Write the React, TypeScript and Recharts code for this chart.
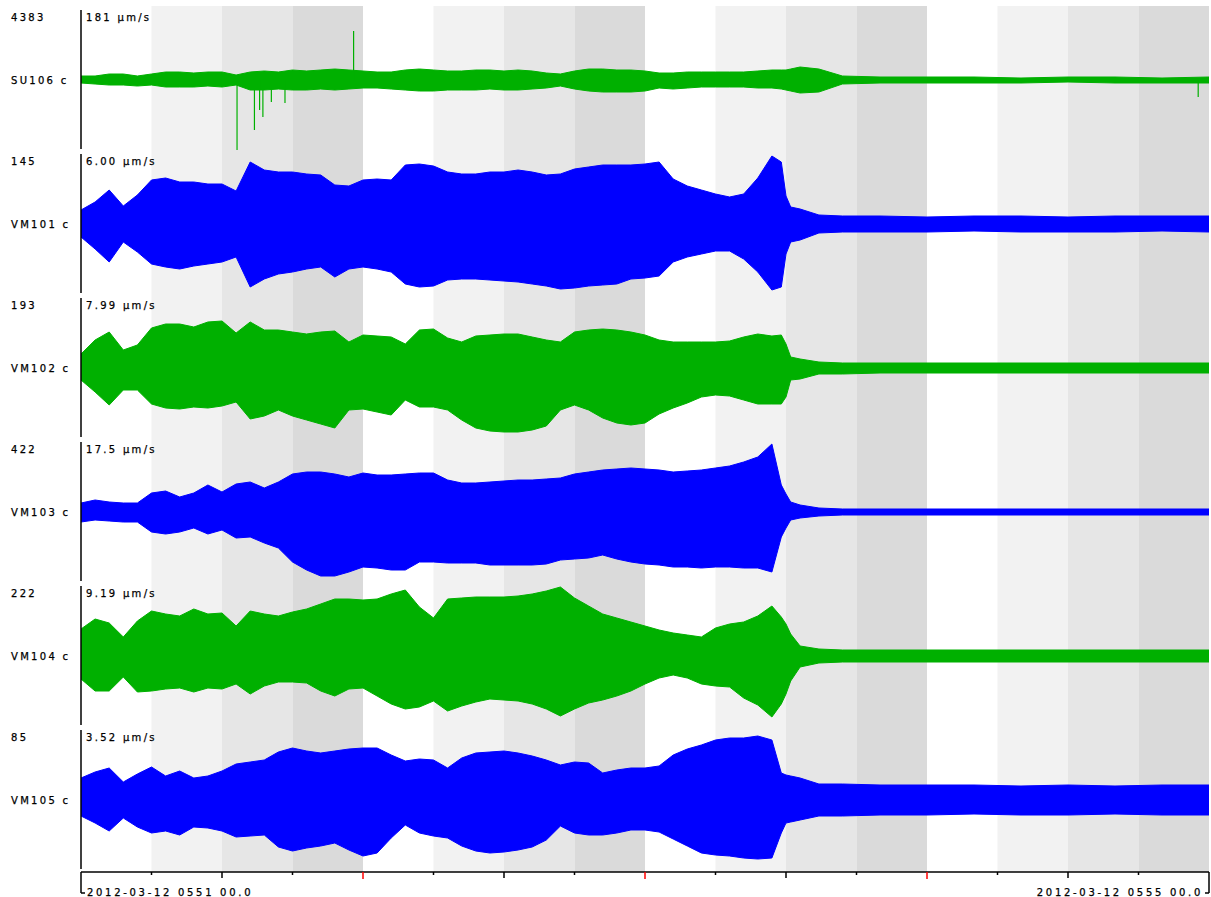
import React from 'react';
import { ComposedChart, Area, XAxis, YAxis, ReferenceArea, ReferenceLine } from 'recharts';

// time in seconds from the left edge of the record
const TIME = [
  0, 3, 6, 9, 12, 15, 18, 21, 24, 27,
  30, 33, 36, 39, 42, 45, 48, 51, 54, 57,
  60, 63, 66, 69, 72, 75, 78, 81, 84, 87,
  90, 93, 96, 99, 102, 105, 108, 111, 114, 117,
  120, 123, 126, 129, 132, 135, 138, 141, 144, 147,
  149, 150, 151, 153,
  157, 162, 170, 180, 190, 200, 210, 220, 230, 240,
];

const STATIONS = ['SU106 c', 'VM101 c', 'VM102 c', 'VM103 c', 'VM104 c', 'VM105 c'];
const COUNTS = ['4383', '145', '193', '422', '222', '85'];
const SCALES = ['181 µm/s', '6.00 µm/s', '7.99 µm/s', '17.5 µm/s', '9.19 µm/s', '3.52 µm/s'];

// envelope of each trace: upper excursion and lower excursion (relative amplitude)
const SU106_HI = [4, 4, 6, 6, 4, 6, 8, 8, 7, 8, 8, 5, 8, 9, 8, 10, 9, 10, 11, 10, 9, 8, 8, 10, 11, 10, 9, 9, 10, 10, 9, 10, 9, 7, 6, 9, 11, 11, 10, 10, 9, 7, 7, 8, 8, 8, 8, 8, 9, 10, 10, 10, 11, 13, 11, 4, 3, 3, 3, 2, 3, 3, 2, 3];
const SU106_LO = [3, 4, 5, 5, 6, 5, 7, 7, 7, 6, 7, 5, 10, 10, 9, 10, 10, 9, 10, 9, 8, 8, 9, 10, 11, 11, 10, 10, 10, 9, 10, 10, 9, 8, 6, 9, 11, 12, 12, 12, 11, 8, 9, 8, 7, 7, 7, 7, 8, 8, 9, 10, 11, 13, 12, 4, 3, 3, 3, 3, 2, 3, 3, 3];
const VM101_HI = [14, 22, 34, 18, 29, 44, 46, 42, 42, 40, 40, 33, 62, 54, 52, 52, 50, 49, 39, 38, 44, 45, 44, 59, 60, 58, 52, 50, 50, 52, 52, 54, 52, 49, 50, 55, 57, 59, 59, 59, 60, 62, 45, 38, 34, 30, 27, 30, 46, 68, 62, 28, 17, 15, 9, 8, 8, 7, 8, 8, 7, 8, 8, 8];
const VM101_LO = [13, 25, 38, 18, 28, 40, 43, 45, 42, 40, 38, 33, 63, 55, 50, 48, 45, 43, 53, 45, 43, 45, 48, 60, 63, 62, 56, 55, 55, 56, 57, 58, 60, 62, 65, 64, 62, 61, 60, 55, 54, 52, 38, 33, 30, 27, 27, 35, 48, 66, 63, 30, 18, 16, 9, 8, 8, 8, 7, 8, 8, 8, 7, 8];
const VM102_HI = [14, 28, 36, 18, 23, 40, 44, 44, 41, 46, 47, 35, 46, 38, 38, 36, 34, 36, 37, 26, 33, 32, 31, 24, 38, 39, 30, 26, 32, 33, 34, 34, 31, 28, 26, 36, 38, 39, 38, 36, 33, 28, 26, 26, 26, 26, 27, 31, 34, 32, 33, 24, 11, 9, 6, 5, 5, 5, 5, 5, 5, 5, 5, 5];
const VM102_LO = [12, 24, 37, 22, 22, 36, 40, 41, 39, 40, 38, 34, 51, 48, 42, 48, 52, 56, 60, 42, 41, 44, 47, 32, 39, 39, 42, 52, 60, 63, 64, 64, 62, 58, 42, 37, 42, 50, 55, 57, 55, 46, 40, 35, 29, 27, 28, 32, 36, 36, 36, 29, 12, 11, 6, 6, 5, 5, 5, 5, 5, 5, 5, 5];
const VM103_HI = [9, 12, 10, 9, 9, 19, 21, 15, 19, 27, 20, 28, 30, 24, 30, 38, 40, 40, 38, 35, 39, 37, 37, 38, 39, 39, 32, 29, 29, 30, 31, 32, 32, 33, 34, 38, 40, 42, 43, 44, 43, 42, 40, 41, 42, 44, 46, 50, 55, 68, 27, 18, 10, 7, 4, 3, 3, 3, 3, 3, 3, 3, 3, 3];
const VM103_LO = [10, 8, 9, 10, 10, 20, 22, 20, 16, 22, 18, 26, 25, 31, 36, 50, 58, 64, 64, 60, 55, 56, 58, 58, 50, 50, 51, 51, 51, 53, 53, 53, 53, 52, 48, 47, 46, 43, 47, 50, 52, 53, 55, 55, 56, 55, 55, 56, 56, 60, 25, 16, 8, 6, 4, 3, 3, 3, 3, 3, 3, 3, 3, 3];
const VM104_HI = [27, 37, 33, 19, 35, 45, 42, 40, 47, 42, 43, 30, 45, 42, 40, 44, 47, 52, 57, 57, 56, 57, 62, 66, 49, 38, 57, 58, 59, 59, 59, 60, 62, 65, 69, 58, 50, 42, 38, 34, 30, 26, 23, 21, 19, 28, 32, 34, 40, 50, 39, 32, 22, 10, 7, 6, 6, 6, 6, 6, 6, 6, 6, 6];
const VM104_LO = [23, 35, 35, 21, 36, 35, 33, 32, 36, 32, 33, 28, 38, 30, 26, 26, 27, 35, 40, 33, 32, 40, 48, 53, 51, 45, 55, 50, 46, 43, 44, 45, 48, 53, 60, 53, 47, 44, 40, 35, 28, 22, 19, 22, 28, 30, 31, 42, 49, 61, 48, 38, 25, 11, 7, 6, 6, 6, 6, 6, 6, 6, 6, 6];
const VM105_HI = [22, 28, 32, 18, 26, 33, 24, 29, 22, 24, 29, 36, 38, 40, 48, 52, 49, 47, 49, 51, 52, 52, 45, 39, 41, 40, 32, 42, 47, 48, 49, 47, 44, 40, 35, 38, 37, 27, 30, 32, 32, 34, 45, 51, 55, 60, 62, 62, 64, 60, 27, 25, 24, 22, 16, 16, 15, 15, 15, 14, 15, 14, 15, 15];
const VM105_LO = [16, 23, 31, 18, 27, 33, 31, 35, 27, 28, 31, 37, 36, 35, 47, 51, 48, 46, 43, 50, 56, 53, 38, 25, 33, 36, 38, 46, 51, 53, 52, 50, 47, 40, 26, 33, 35, 35, 33, 30, 30, 32, 39, 46, 53, 55, 56, 58, 59, 58, 33, 23, 22, 20, 16, 16, 15, 15, 14, 15, 15, 14, 15, 15];

// isolated glitches on SU106: time, excursion
const SU106_SPIKE_T = [33.2, 36.9, 38.0, 38.7, 40.5, 43.4, 58.0, 237.7];
const SU106_SPIKE_V = [-70, -50, -30, -37, -22, -23, 49, -17];

// time axis
const TICKS = [0, 15, 30, 45, 60, 75, 90, 105, 120, 135, 150, 165, 180, 195, 210, 225, 240];
const MINUTE_TICKS = [60, 120, 180];
const HALF_MINUTE_TICKS = [30, 90, 150, 210];
const START_LABEL = '2012-03-12 0551 00.0';
const END_LABEL = '2012-03-12 0555 00.0';

const HIGHS = [SU106_HI, VM101_HI, VM102_HI, VM103_HI, VM104_HI, VM105_HI];
const LOWS = [SU106_LO, VM101_LO, VM102_LO, VM103_LO, VM104_LO, VM105_LO];
const COLORS = ['#00b000', '#0000ff', '#00b000', '#0000ff', '#00b000', '#0000ff'];
const SHADES = ['#ffffff', '#f2f2f2', '#e6e6e6', '#dadada'];

const HALF = 72; // half height of one trace band
const PAD = 2;
const FONT = "'DejaVu Sans', sans-serif";

const tableData = TIME.map((t, k) => {
  const row: Record<string, any> = { t };
  HIGHS.forEach((hi, i) => {
    row['r' + i] = [-LOWS[i][k], hi[k]];
  });
  return row;
});

const textStyle = { fontFamily: FONT, fontSize: 10, letterSpacing: 2.3, fill: '#000', stroke: '#000', strokeWidth: 0.25 };
const dateStyle = { ...textStyle, letterSpacing: 2.7 };

const bandLabel = (i: number) => (props: any) => {
  const vb = props.viewBox || {};
  const x = vb.x ?? 81;
  const y = vb.y ?? 0;
  return (
    <g>
      <text x={x - 70} y={y + 11} style={textStyle}>{COUNTS[i]}</text>
      <text x={x + 5} y={y + 11} style={textStyle}>{SCALES[i]}</text>
      <text x={x - 70} y={y + 74} style={textStyle}>{STATIONS[i]}</text>
    </g>
  );
};

const renderTick = (props: any) => {
  const { x, y, payload } = props;
  const v = payload.value;
  if (v === 0) {
    return (
      <g>
        <line x1={x} y1={y} x2={x} y2={y + 21} stroke="#000" strokeWidth={1.5} />
        <line x1={x} y1={y + 21} x2={x + 4} y2={y + 21} stroke="#000" strokeWidth={1.5} />
        <text x={x + 6} y={y + 24} style={dateStyle}>{START_LABEL}</text>
      </g>
    );
  }
  if (v === 240) {
    return (
      <g>
        <line x1={x} y1={y} x2={x} y2={y + 21} stroke="#000" strokeWidth={1.5} />
        <line x1={x - 4} y1={y + 21} x2={x} y2={y + 21} stroke="#000" strokeWidth={1.5} />
        <text x={x - 6} y={y + 24} textAnchor="end" style={dateStyle}>{END_LABEL}</text>
      </g>
    );
  }
  const red = MINUTE_TICKS.includes(v);
  const len = red ? 7 : HALF_MINUTE_TICKS.includes(v) ? 6 : 3;
  return <line x1={x} y1={y} x2={x} y2={y + len} stroke={red ? '#ff0000' : '#000'} strokeWidth={1.5} />;
};

export default function App() {
  const stripes = TICKS.slice(0, -1).map((a, k) => ({ x1: a, x2: TICKS[k + 1], fill: SHADES[k % 4] }));
  return (
    <div style={{ width: 1211, height: 897, background: '#fff' }}>
      <style>{'body{margin:0;background:#fff;}'}</style>
      <ComposedChart
        width={1211}
        height={897}
        data={tableData}
        margin={{ top: 6, right: 2, bottom: 0, left: 81 }}
      >
        <XAxis
          dataKey="t"
          type="number"
          domain={[0, 240]}
          ticks={TICKS}
          interval={0}
          tickLine={false}
          tickSize={0}
          tickMargin={0}
          tick={renderTick}
          height={25}
          axisLine={{ stroke: '#000', strokeWidth: 1.5 }}
          allowDataOverflow
        />
        {STATIONS.map((_, i) => (
          <YAxis
            key={'y' + i}
            yAxisId={'t' + i}
            hide
            type="number"
            domain={[-HALF * (11 - 2 * i), HALF * (1 + 2 * i) + PAD]}
            allowDataOverflow
          />
        ))}
        {stripes.map((s, k) => (
          <ReferenceArea
            key={'s' + k}
            yAxisId="t0"
            x1={s.x1}
            x2={s.x2}
            fill={s.fill}
            fillOpacity={1}
            stroke="none"
            ifOverflow="visible"
          />
        ))}
        {STATIONS.map((_, i) => (
          <Area
            key={'a' + i}
            yAxisId={'t' + i}
            dataKey={'r' + i}
            type="linear"
            stroke={COLORS[i]}
            strokeWidth={1}
            fill={COLORS[i]}
            fillOpacity={1}
            isAnimationActive={false}
            dot={false}
            activeDot={false}
          />
        ))}
        {SU106_SPIKE_T.map((t, k) => (
          <ReferenceLine
            key={'sp' + k}
            yAxisId="t0"
            segment={[{ x: t, y: 0 }, { x: t, y: SU106_SPIKE_V[k] }]}
            stroke={COLORS[0]}
            strokeWidth={1.2}
            ifOverflow="visible"
          />
        ))}
        {STATIONS.map((_, i) => (
          <ReferenceLine
            key={'ax' + i}
            yAxisId={'t' + i}
            segment={[{ x: 0, y: -69 }, { x: 0, y: 70 }]}
            stroke="#000"
            strokeWidth={1.5}
            ifOverflow="visible"
            label={bandLabel(i)}
          />
        ))}
      </ComposedChart>
    </div>
  );
}
